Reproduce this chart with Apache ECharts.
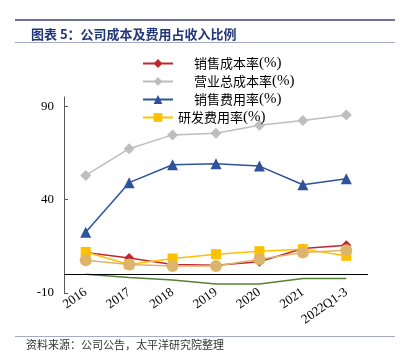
<!DOCTYPE html>
<html>
<head>
<meta charset="utf-8">
<script src="https://cdn.jsdelivr.net/npm/echarts@6/dist/echarts.min.js"></script>
<style>
html,body{margin:0;padding:0;background:#fff;}
#c{width:400px;height:363px;}
</style>
</head>
<body>
<div id="c"></div>
<script>
const categories = ['2016','2017','2018','2019','2020','2021','2022Q1-3'];
const salesCostRate = [11.7, 8.8, 5.3, 4.9, 6.7, 13.8, 15.6];
const totalCostRate = [53.0, 67.3, 74.7, 75.6, 79.9, 82.4, 85.4];
const sellingExpRate = [22.5, 49.1, 58.7, 59.2, 58.0, 48.0, 51.2];
const rdExpRate = [12.0, 5.3, 8.5, 10.8, 12.4, 13.5, 9.9];
const otherRate = [7.6, 5.3, 4.5, 4.5, 8.1, 11.7, 12.9];
const greenRate = [0.0, -1.7, -3.1, -5.2, -5.2, -2.2, -2.2];
const yTicks = [-10, 40, 90];

const serif = '"Liberation Serif","DejaVu Serif",serif';
const cjk = '"Noto Sans CJK SC",sans-serif';

const chart = echarts.init(document.getElementById('c'), null, {renderer:'canvas'});
const lw = 1.5;
chart.setOption({
  animation:false,
  backgroundColor:'#fff',
  title:{
    text:'图表 5：公司成本及费用占收入比例',
    left:26, top:23,
    textStyle:{fontFamily:'"Noto Sans CJK SC",sans-serif',fontSize:13,fontWeight:'bold',color:'#22367A'}
  },
  graphic:[
    {type:'line',shape:{x1:15,y1:20,x2:395,y2:20},style:{stroke:'#6F739C',lineWidth:2}},
    {type:'line',shape:{x1:15,y1:42.5,x2:395,y2:42.5},style:{stroke:'#A7A9C9',lineWidth:1}},
    {type:'line',shape:{x1:15,y1:336.5,x2:395,y2:336.5},style:{stroke:'#A7A9C9',lineWidth:1}},
    {type:'text',left:26,top:339,style:{text:'资料来源：公司公告，太平洋研究院整理',fontFamily:'"Noto Sans CJK SC",sans-serif',fontSize:11,fill:'#333'}}
  ],
  legend:{
    orient:'vertical',
    left:137, top:51,
    itemWidth:30, itemHeight:11, itemGap:3,
    data:['销售成本率(%)','营业总成本率(%)','销售费用率(%)','研发费用率(%)'],
    formatter:function(n){
      const cn = n.replace('(%)','');
      return (n==='研发费用率(%)' ? '' : '{sp|}') + '{c|' + cn + '}{p|(%)}';
    },
    textStyle:{
      color:'#000',
      rich:{
        sp:{width:16},
        c:{fontFamily:cjk,fontSize:13,color:'#000',lineHeight:13},
        p:{fontFamily:serif,fontSize:15,color:'#000',lineHeight:13}
      }
    }
  },
  grid:{left:64,right:32,top:97,bottom:70,containLabel:false},
  xAxis:{
    type:'category',
    data:categories,
    boundaryGap:true,
    axisLine:{show:false},
    axisTick:{show:false},
    axisLabel:{rotate:35,margin:-2,fontFamily:serif,fontSize:13,color:'#000',interval:0}
  },
  yAxis:{
    type:'value',
    min:-10,max:95,interval:50,
    splitLine:{show:false},
    axisLine:{show:true,lineStyle:{color:'#595959',width:1}},
    axisTick:{show:true,inside:true,length:4,lineStyle:{color:'#595959'}},
    axisLabel:{fontFamily:serif,fontSize:13,color:'#000',margin:10,showMaxLabel:false,
      formatter:function(v){ return yTicks.indexOf(v)>=0 ? String(v) : ''; }}
  },
  series:[
    {name:'销售成本率(%)',type:'line',data:salesCostRate,symbol:'diamond',symbolSize:10,
      itemStyle:{color:'#C0282F'},lineStyle:{color:'#C0282F',width:lw}},
    {name:'营业总成本率(%)',type:'line',data:totalCostRate,symbol:'diamond',symbolSize:11,
      itemStyle:{color:'#BEBEBE'},lineStyle:{color:'#BEBEBE',width:lw}},
    {name:'销售费用率(%)',type:'line',data:sellingExpRate,symbol:'triangle',symbolSize:11,
      itemStyle:{color:'#2E539B'},lineStyle:{color:'#2E539B',width:lw}},
    {name:'研发费用率(%)',type:'line',data:rdExpRate,symbol:'rect',symbolSize:10,
      itemStyle:{color:'#FFC000'},lineStyle:{color:'#FFC000',width:lw}},
    {name:'其他',type:'line',data:otherRate,symbol:'circle',symbolSize:12,
      itemStyle:{color:'#DDB46C'},lineStyle:{color:'#DDB46C',width:lw}},
    {name:'其他2',type:'line',data:greenRate,symbol:'none',
      lineStyle:{color:'#548235',width:lw},
      markLine:{silent:true,symbol:'none',label:{show:false},
        lineStyle:{color:'#000',type:'solid',width:1},data:[{yAxis:0}]}}
  ]
});
</script>
</body>
</html>
